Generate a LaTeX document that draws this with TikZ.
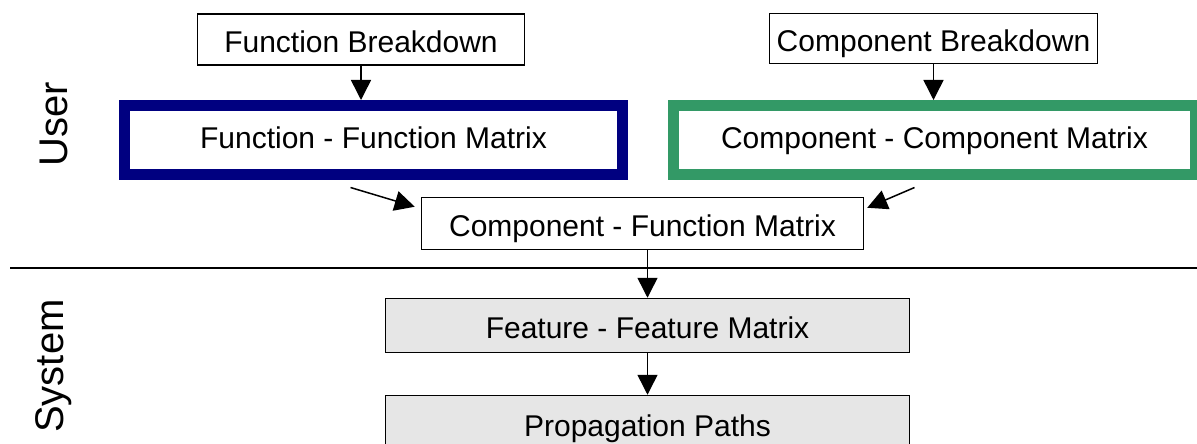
\documentclass[tikz,border=0pt]{standalone}
\usepackage{fontspec}
\setmainfont{Liberation Sans}
\usetikzlibrary{arrows.meta,calc}
\definecolor{navyb}{HTML}{000080}
\definecolor{greenb}{HTML}{339966}
\definecolor{grayf}{HTML}{E6E6E6}
\begin{document}
\begin{tikzpicture}[x=1pt,y=-1pt,
  lbl/.style={font=\fontsize{30}{36}\selectfont,text height=26pt,text depth=0pt},
  thinbox/.style={draw=black,line width=1.5pt,fill=white,inner sep=0pt,lbl},
  thickbox/.style={line width=11pt,fill=white,inner sep=0pt,lbl,text height=17pt},
  sysbox/.style={thinbox,fill=grayf},
  side/.style={font=\fontsize{40}{48}\selectfont,rotate=90,inner sep=0pt},
  arr/.style={line width=1.5pt,-{Triangle[length=20pt,width=20pt]}}]
\useasboundingbox (0,0) rectangle (1197,444);
\fill[white] (0,0) rectangle (1197,444);

\node[thinbox,minimum width=327pt,minimum height=51pt] (fb) at (361,39.5) {Function Breakdown};
\node[thinbox,minimum width=328pt,minimum height=50pt] (cb) at (933.5,38.5) {Component Breakdown};
\node[thickbox,draw=navyb,minimum width=498pt,minimum height=69pt] (ffm) at (373.5,140) {Function - Function Matrix};
\node[thickbox,draw=greenb,minimum width=522pt,minimum height=69pt] (ccm) at (934.5,140) {Component - Component Matrix};
\node[thinbox,minimum width=442pt,minimum height=52pt] (cfm) at (642.5,223.5) {Component - Function Matrix};
\node[sysbox,minimum width=524pt,minimum height=54pt] (fem) at (647.5,325.5) {Feature - Feature Matrix};
\node[sysbox,minimum width=524pt,minimum height=56pt] (pp) at (647.5,423.5) {Propagation Paths};

\node[side] (user) at (54,124) {User};
\node[side] (system) at (54,366) {System};

\coordinate (l1) at (10,268);
\coordinate (l2) at (1197,268);
\draw[line width=1.5pt] (l1) -- (l2);

\draw[arr] (fb.south) -- (fb.south |- ffm.north);
\draw[arr] (cb.south) -- (cb.south |- ccm.north);
\draw[arr] ($(ffm.south west)+(231.5,7.5)$) -- ($(cfm.north west)+(-6,10)$);
\draw[arr] ($(ccm.south west)+(246.5,7.5)$) -- ($(cfm.north east)+(3,11)$);
\draw[arr] (cfm.south -| fem.north) -- (fem.north);
\draw[arr] (fem.south) -- (pp.north);
\end{tikzpicture}
\end{document}
